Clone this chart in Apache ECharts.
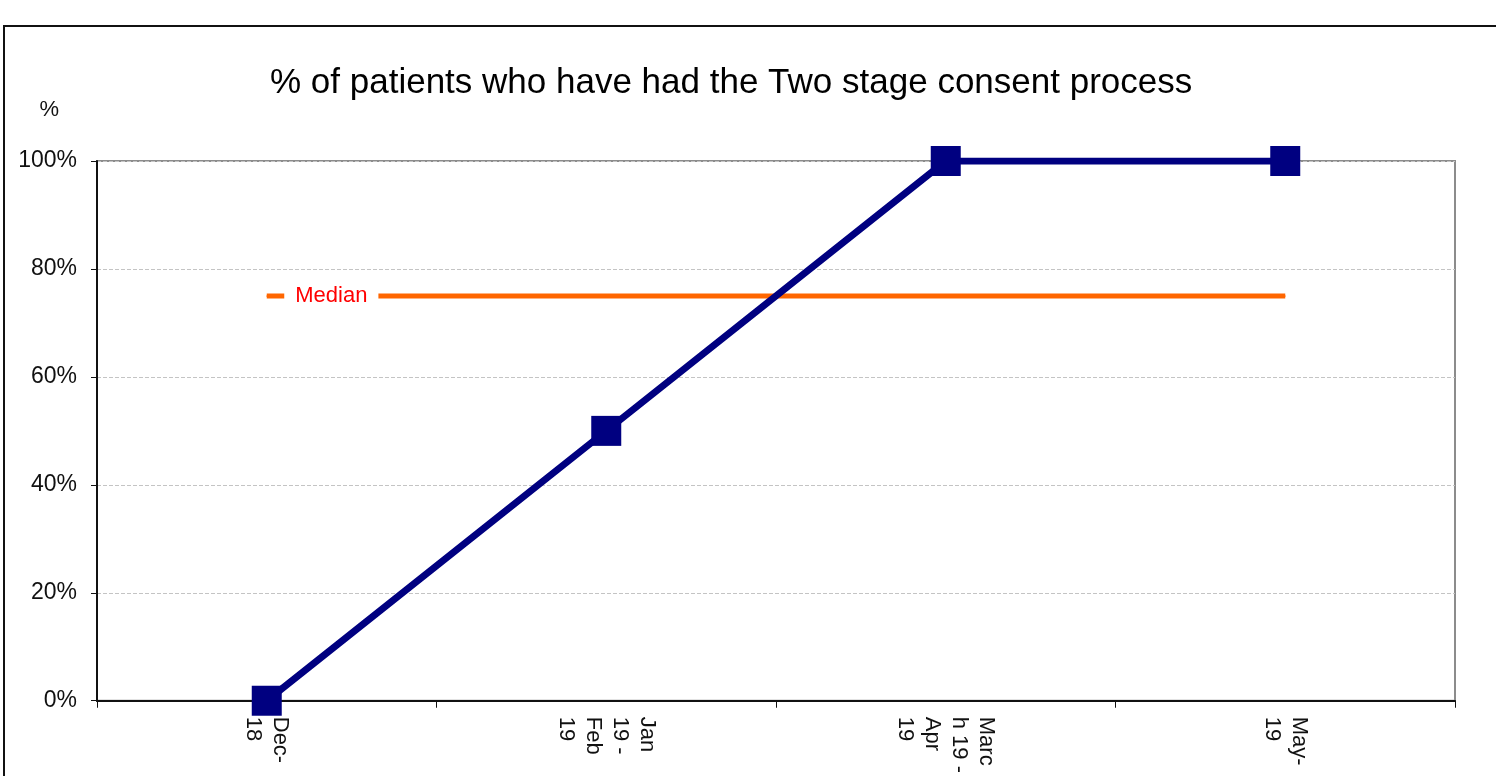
<!DOCTYPE html>
<html>
<head>
<meta charset="utf-8">
<script src="https://cdn.jsdelivr.net/npm/echarts@6/dist/echarts.min.js"></script>
<style>
  html, body { margin: 0; padding: 0; background: #fff; }
  #chart { width: 1496px; height: 776px; }
</style>
</head>
<body>
<div id="chart"></div>
<script>
var categories = ['Dec-\n18', 'Jan\n19 -\nFeb\n19', 'Marc\nh 19 -\nApr\n19', 'May-\n19'];
var consentPct = [0, 50, 100, 100];
var medianPct = [75, 75, 75, 75];
var yTicks = [0, 20, 40, 60, 80, 100];

var font = 'Liberation Sans, Arial, sans-serif';
var chart = echarts.init(document.getElementById('chart'));

// median label only on the first point
var medianData = medianPct.map(function (v, i) {
    if (i > 0) return v;
    return {
        value: v,
        label: {
            show: true,
            position: 'right',
            distance: 17,
            formatter: 'Median',
            color: '#ff0000',
            fontFamily: font,
            fontSize: 22,
            backgroundColor: '#ffffff',
            padding: [2, 11]
        }
    };
});

chart.setOption({
    animation: false,
    backgroundColor: '#ffffff',
    title: {
        text: '% of patients who have had the Two stage consent process',
        left: 265,
        top: 61,
        textStyle: { fontFamily: font, fontSize: 35, fontWeight: 'normal', color: '#000' }
    },
    graphic: [{
        type: 'rect',
        shape: { x: 4, y: 26, width: 1600, height: 900 },
        style: { fill: null, stroke: '#111', lineWidth: 2 },
        z: -1
    }],
    grid: {
        left: 97, right: 41, top: 161, bottom: 75,
        show: true, borderColor: '#8c8c8c', borderWidth: 2
    },
    xAxis: {
        type: 'category',
        data: categories,
        boundaryGap: true,
        axisLine: { lineStyle: { color: '#111', width: 2 } },
        axisTick: { show: true, length: 7, lineStyle: { color: '#111' } },
        axisLabel: {
            rotate: -90, margin: 16, interval: 0,
            fontFamily: font, fontSize: 22, lineHeight: 27, color: '#111'
        },
        splitLine: { show: false }
    },
    yAxis: {
        type: 'value',
        min: yTicks[0], max: yTicks[yTicks.length - 1], interval: 20,
        name: '%',
        nameLocation: 'end',
        nameGap: 51,
        nameTextStyle: { fontFamily: font, fontSize: 22, color: '#111', align: 'right', verticalAlign: 'middle', padding: [0, 38, 0, 0] },
        axisLine: { show: true, lineStyle: { color: '#111', width: 2 } },
        axisTick: { show: true, length: 6, lineStyle: { color: '#111' } },
        axisLabel: { formatter: '{value}%', margin: 20, fontFamily: font, fontSize: 23, color: '#111' },
        splitLine: { show: true, lineStyle: { color: '#c4c4c4', type: 'dashed', width: 1 } }
    },
    series: [{
        name: 'Median',
        type: 'line',
        data: medianData,
        showSymbol: true,
        symbol: 'circle',
        symbolSize: 1,
        itemStyle: { color: '#ff6600' },
        lineStyle: { color: '#ff6600', width: 5 },
        z: 2
    }, {
        name: '% consent',
        type: 'line',
        data: consentPct,
        symbol: 'rect',
        symbolSize: 30,
        itemStyle: { color: '#000080' },
        lineStyle: { color: '#000080', width: 7 },
        z: 3
    }]
});
</script>
</body>
</html>
